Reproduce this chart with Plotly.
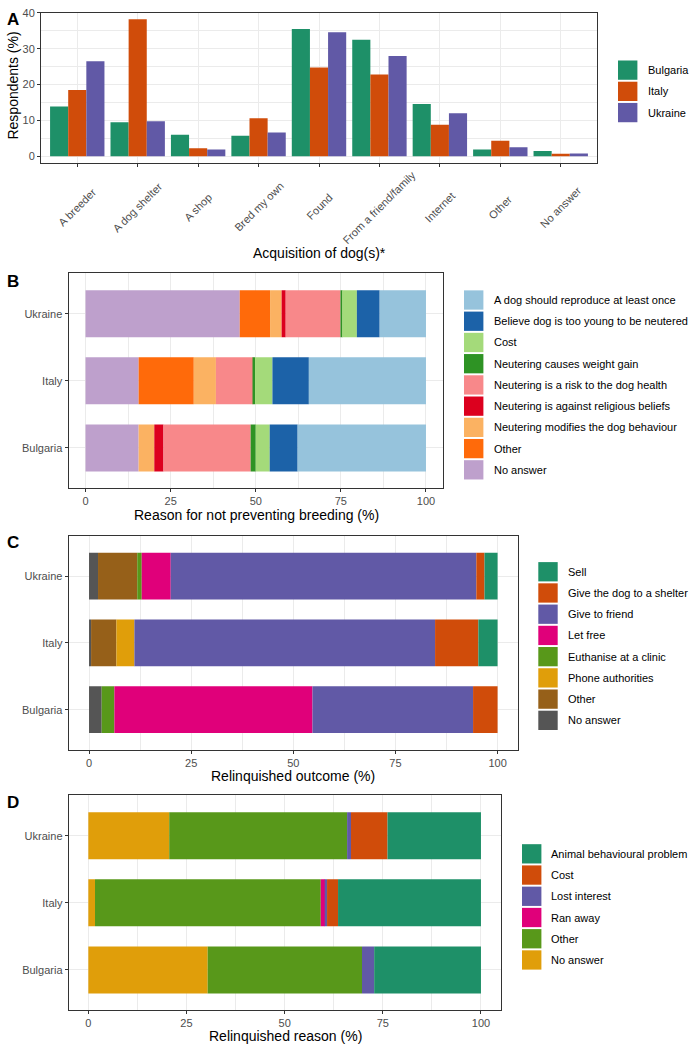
import numpy as np
import plotly.graph_objects as go

W, H = 700, 1050
FONT = "Liberation Sans"

# ---------------- data ----------------
countries = ["Bulgaria", "Italy", "Ukraine"]

acq_categories = ["A breeder", "A dog shelter", "A shop", "Bred my own", "Found",
                  "From a friend/family", "Internet", "Other", "No answer"]
acq_bulgaria = [13.9, 9.5, 6.0, 5.7, 35.5, 32.5, 14.6, 1.9, 1.5]
acq_italy = [18.5, 38.2, 2.2, 10.6, 24.8, 22.8, 8.8, 4.3, 0.7]
acq_ukraine = [26.5, 9.8, 1.9, 6.6, 34.6, 28.0, 12.0, 2.5, 0.8]

breed_reasons = ["A dog should reproduce at least once",
                 "Believe dog is too young to be neutered",
                 "Cost",
                 "Neutering causes weight gain",
                 "Neutering is a risk to the dog health",
                 "Neutering is against religious beliefs",
                 "Neutering modifies the dog behaviour",
                 "Other",
                 "No answer"]
breed_bulgaria = [37.7, 8.2, 4.1, 1.5, 25.6, 2.7, 4.6, 0.0, 15.6]
breed_italy = [34.4, 10.7, 5.1, 0.5, 11.0, 0.0, 6.5, 16.2, 15.6]
breed_ukraine = [13.6, 6.7, 4.3, 0.5, 16.1, 1.2, 3.4, 8.9, 45.3]

outcome_labels = ["Sell", "Give the dog to a shelter", "Give to friend", "Let free",
                  "Euthanise at a clinic", "Phone authorities", "Other", "No answer"]
outcome_bulgaria = [0.0, 6.0, 39.3, 48.5, 3.1, 0.0, 0.0, 3.1]
outcome_italy = [4.7, 10.6, 73.6, 0.0, 0.0, 4.4, 6.2, 0.5]
outcome_ukraine = [3.2, 2.0, 74.8, 7.1, 1.1, 0.0, 9.6, 2.2]

reason_labels = ["Animal behavioural problem", "Cost", "Lost interest", "Ran away",
                 "Other", "No answer"]
reason_bulgaria = [27.2, 0.0, 3.1, 0.0, 39.3, 30.4]
reason_italy = [36.4, 2.8, 0.5, 1.1, 57.5, 1.7]
reason_ukraine = [23.8, 9.3, 1.0, 0.0, 45.3, 20.6]

pct_ticks = [0, 25, 50, 75, 100]

# ---------------- styles ----------------
country_colors = ["#1E9068", "#D04C0A", "#6159A6"]
breed_colors = ["#96C3DC", "#1C62A8", "#A4DA7A", "#2E9324", "#F8888A",
                "#DC001E", "#FBB262", "#FF6A0A", "#BEA0CC"]
outcome_colors = ["#1E9068", "#D04C0A", "#6159A6", "#E0007A", "#58981A",
                  "#E09E0A", "#966019", "#555555"]
reason_colors = ["#1E9068", "#D04C0A", "#6159A6", "#E0007A", "#58981A", "#E09E0A"]

GRID = "#EBEBEB"
BORDER = "#333333"
TICKC = "#4D4D4D"


def xf(px):
    return px / W


def yf(py):
    return 1 - py / H


fig = go.Figure()

# ---------- Panel A: grouped bars ----------
for i, (name, vals) in enumerate(zip(countries, [acq_bulgaria, acq_italy, acq_ukraine])):
    fig.add_trace(go.Bar(
        x=acq_categories, y=vals, name=name, marker_color=country_colors[i],
        marker_line_width=0, width=0.3, offset=-0.45 + 0.3 * i,
        xaxis="x", yaxis="y", showlegend=False))


# ---------- stacked horizontal panels ----------
def add_stacked(labels, series, colors, xa, ya):
    # ggplot stacks the first level on the right; draw from last level leftwards
    data = np.array(series)  # countries x levels
    order = list(range(len(labels)))[::-1]
    base = np.zeros(len(countries))
    for k in order:
        vals = data[:, k]
        fig.add_trace(go.Bar(
            y=countries, x=vals, base=base.copy(), orientation="h",
            name=labels[k], marker_color=colors[k], marker_line_width=0,
            width=0.7, xaxis=xa, yaxis=ya, showlegend=False))
        base = base + vals


add_stacked(breed_reasons, [breed_bulgaria, breed_italy, breed_ukraine], breed_colors, "x2", "y2")
add_stacked(outcome_labels, [outcome_bulgaria, outcome_italy, outcome_ukraine], outcome_colors, "x3", "y3")
add_stacked(reason_labels, [reason_bulgaria, reason_italy, reason_ukraine], reason_colors, "x4", "y4")

tickfont = dict(family=FONT, size=11, color=TICKC)
common = dict(showline=True, mirror=True, linecolor=BORDER, linewidth=1,
              ticks="outside", ticklen=3, tickcolor=BORDER, tickwidth=1,
              showgrid=True, gridcolor=GRID, gridwidth=1, zeroline=False,
              tickfont=tickfont, fixedrange=True)

layout = dict(
    width=W, height=H, autosize=False,
    margin=dict(l=0, r=0, t=0, b=0),
    paper_bgcolor="white", plot_bgcolor="white",
    barmode="overlay", showlegend=False,
    font=dict(family=FONT, size=11, color="black"),
)

# Panel A axes (tick labels drawn centred on ticks, ggplot style, below)
layout["xaxis"] = dict(common, domain=[xf(41), xf(597)], anchor="y", type="category",
                       categoryorder="array", categoryarray=acq_categories,
                       range=[-0.6, len(acq_categories) - 0.4], showticklabels=False)
layout["yaxis"] = dict(common, domain=[yf(158), yf(6.6)], anchor="x",
                       range=[-1.91, 40.1], tickvals=[0, 10, 20, 30, 40],
                       minor=dict(tickvals=[5, 15, 25, 35], showgrid=True,
                                  gridcolor=GRID, gridwidth=0.5, ticks=""))

panels = [
    ("x2", "y2", 68.5, 443, 269, 485),
    ("x3", "y3", 68.6, 518, 533, 748),
    ("x4", "y4", 68.7, 500.6, 794, 1010),
]
for xa, ya, x0, x1, y0, y1 in panels:
    xn = "xaxis" + xa[1:]
    yn = "yaxis" + ya[1:]
    layout[xn] = dict(common, domain=[xf(x0), xf(x1)], anchor=ya, range=[-5, 105],
                      tickvals=pct_ticks,
                      minor=dict(tickvals=[12.5, 37.5, 62.5, 87.5], showgrid=True,
                                 gridcolor=GRID, gridwidth=0.5, ticks=""))
    layout[yn] = dict(common, domain=[yf(y1), yf(y0)], anchor=xa, type="category",
                      categoryorder="array", categoryarray=countries,
                      range=[-0.6, len(countries) - 0.4])

fig.update_layout(**layout)

ann = []
shapes = []

# rotated category labels of panel A, centred on their ticks
for cat in acq_categories:
    ann.append(dict(text=cat, x=cat, xref="x", y=yf(202), yref="paper", showarrow=False,
                    textangle=-45, xanchor="center", yanchor="middle",
                    font=dict(family=FONT, size=11, color=TICKC)))

# panel letters
for letter, px, py in [("A", 13, 14), ("B", 13, 277), ("C", 13, 540), ("D", 13, 801)]:
    ann.append(dict(text="<b>%s</b>" % letter, x=xf(px), y=yf(py), xref="paper", yref="paper",
                    showarrow=False, xanchor="center", yanchor="middle",
                    font=dict(family=FONT, size=17, color="black")))

# axis titles
titles = [
    ("Acquisition of dog(s)*", 319, 248),
    ("Reason for not preventing breeding (%)", 256, 512),
    ("Relinquished outcome (%)", 293, 774),
    ("Relinquished reason (%)", 285, 1036),
]
for t, px, py in titles:
    ann.append(dict(text=t, x=xf(px), y=yf(py), xref="paper", yref="paper", showarrow=False,
                    xanchor="center", yanchor="middle",
                    font=dict(family=FONT, size=14, color="black")))
ann.append(dict(text="Respondents (%)", x=xf(13), y=yf(80), xref="paper", yref="paper",
                showarrow=False, textangle=-90, xanchor="center", yanchor="middle",
                font=dict(family=FONT, size=14, color="black")))


# manual legends (ggplot-style square keys)
def add_legend(labels, colors, key_x, text_x, first_y, step=21.35, key=19.4):
    for i, (lab, col) in enumerate(zip(labels, colors)):
        cy = first_y + i * step
        shapes.append(dict(type="rect", xref="paper", yref="paper",
                           x0=xf(key_x), x1=xf(key_x + key),
                           y0=yf(cy + key / 2), y1=yf(cy - key / 2),
                           fillcolor=col, line=dict(width=0), layer="above"))
        ann.append(dict(text=lab, x=xf(text_x), y=yf(cy), xref="paper", yref="paper",
                        showarrow=False, xanchor="left", yanchor="middle",
                        font=dict(family=FONT, size=11, color="black")))


add_legend(countries, country_colors, 618, 646, 64.5)
add_legend(breed_reasons, breed_colors, 464, 491.5, 295.7)
add_legend(outcome_labels, outcome_colors, 538.3, 566, 569)
add_legend(reason_labels, reason_colors, 522, 549.3, 852.7)

fig.update_layout(annotations=ann, shapes=shapes)

fig.write_html("out.html",
               config={"displayModeBar": False},
               post_script="document.body.style.margin='0px';"
                           "document.body.style.overflow='hidden';")
